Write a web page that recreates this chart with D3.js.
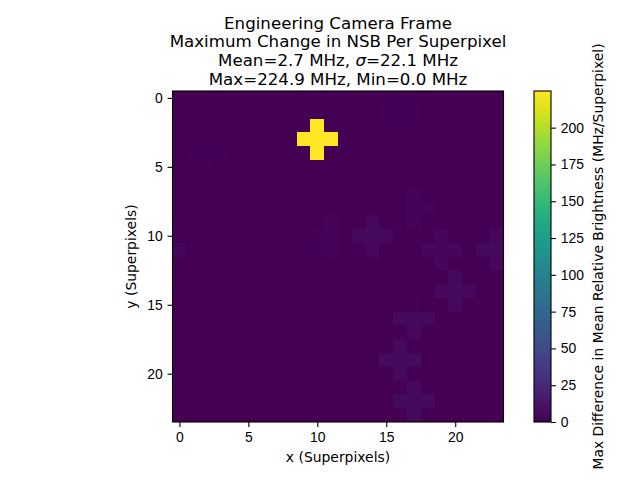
<!DOCTYPE html>
<html>
<head>
<meta charset="utf-8">
<script src="https://cdn.jsdelivr.net/npm/d3@7"></script>
<style>
  body { margin: 0; background: #fff; }
  svg { font-family: "DejaVu Sans", sans-serif; }
</style>
</head>
<body>
<svg id="chart" width="640" height="480"></svg>
<script>
// superpixel grid is 24 x 24, value of background cells
var gridSize = 24;
var baseValue = 0.0;

// non-background cells: [x, y, MHz]
var brightCross = [[10, 2, 224.9], [9, 3, 224.9], [10, 3, 224.9], [11, 3, 224.9], [10, 4, 224.9]];
var faintCells = [
    [16, 0, 1.5], [15, 1, 1.5], [16, 1, 1.5], [17, 1, 1.5], [16, 2, 1.5],
    [2, 3, 0.8], [1, 4, 1.2], [2, 4, 1.2], [3, 4, 1.2], [2, 5, 1.2],
    [17, 7, 2.5], [16, 8, 1], [17, 8, 2.5], [18, 8, 2.5], [17, 9, 2.5],
    [14, 9, 4.5], [13, 10, 4.5], [14, 10, 4.5], [15, 10, 4.5], [14, 11, 4.5],
    [11, 9, 1.8], [10, 10, 1.2], [11, 10, 1.8], [10, 11, 1.2], [11, 11, 1.8],
    [19, 10, 4], [18, 11, 4], [19, 11, 4], [20, 11, 4], [19, 12, 4],
    [23, 10, 4.5], [22, 11, 4.5], [23, 11, 4.5], [23, 12, 4.5],
    [0, 11, 3.5],
    [9, 12, 0.8], [8, 13, 0.8], [9, 13, 0.8], [10, 13, 0.8], [9, 14, 0.8],
    [20, 13, 5], [19, 14, 5], [20, 14, 5], [21, 14, 5], [20, 15, 5],
    [22, 15, 0.8], [21, 16, 0.8], [22, 16, 0.8],
    [17, 15, 1.5], [16, 16, 4.5], [17, 16, 4.5], [18, 16, 4.5], [17, 17, 4.5],
    [16, 18, 5.5], [15, 19, 5.5], [16, 19, 5.5], [17, 19, 5.5], [16, 20, 5.5],
    [17, 21, 6], [16, 22, 6], [17, 22, 6], [18, 22, 6], [17, 23, 6],
    [4, 15, 0.8], [4, 16, 0.8], [4, 17, 0.8], [4, 18, 0.8], [4, 19, 0.8], [4, 20, 0.8],
    [5, 16, 0.8], [5, 17, 0.8], [5, 18, 0.8], [5, 19, 0.8], [5, 20, 0.8], [5, 21, 0.8],
    [3, 16, 0.5], [7, 16, 0.5], [8, 16, 0.5], [7, 17, 0.5], [8, 17, 0.5], [7, 18, 0.5]
];

var xTicks = [0, 5, 10, 15, 20];
var yTicks = [0, 5, 10, 15, 20];
var cbTicks = [0, 25, 50, 75, 100, 125, 150, 175, 200];
var vMin = 0.0, vMax = 224.9;

var titleLines = ["Engineering Camera Frame", "Maximum Change in NSB Per Superpixel"];

var svg = d3.select("#chart");
var x0 = 172.5, x1 = 503.5, y0 = 91, y1 = 422;

var x = d3.scaleLinear().domain([-0.5, gridSize - 0.5]).range([x0, x1]);
var y = d3.scaleLinear().domain([-0.5, gridSize - 0.5]).range([y0, y1]);
var color = d3.scaleSequential(d3.interpolateViridis).domain([vMin, vMax]);

// background cells
svg.append("rect")
    .attr("x", x0).attr("y", y0)
    .attr("width", x1 - x0).attr("height", y1 - y0)
    .style("fill", color(baseValue));

var cells = faintCells.concat(brightCross);
svg.append("g").selectAll("rect")
    .data(cells)
    .enter().append("rect")
    .attr("x", function (d) { return x(d[0] - 0.5); })
    .attr("y", function (d) { return y(d[1] - 0.5); })
    .attr("width", function (d) { return x(d[0] + 0.5) - x(d[0] - 0.5); })
    .attr("height", function (d) { return y(d[1] + 0.5) - y(d[1] - 0.5); })
    .attr("shape-rendering", "crispEdges")
    .style("fill", function (d) { return color(d[2]); });

function styleAxis(g) {
    g.selectAll("path").attr("stroke", "#000").attr("stroke-width", 1.1);
    g.selectAll("line").attr("stroke", "#000").attr("stroke-width", 1.1);
    g.selectAll("text").attr("fill", "#000").style("font-size", "13.9px");
}

svg.append("g")
    .attr("transform", "translate(0," + y1 + ")")
    .call(d3.axisBottom(x).tickValues(xTicks).tickSize(4.9).tickPadding(4.9).tickSizeOuter(0))
    .call(styleAxis)
    .select(".domain").remove();

svg.append("g")
    .attr("transform", "translate(" + x0 + ",0)")
    .call(d3.axisLeft(y).tickValues(yTicks).tickSize(4.9).tickPadding(4.9).tickSizeOuter(0))
    .call(styleAxis)
    .select(".domain").remove();

// frame
svg.append("rect")
    .attr("x", x0).attr("y", y0)
    .attr("width", x1 - x0).attr("height", y1 - y0)
    .style("fill", "none").style("stroke", "#000").style("stroke-width", 1.1);

svg.append("text")
    .attr("x", (x0 + x1) / 2).attr("y", 462)
    .attr("text-anchor", "middle").style("font-size", "13.9px")
    .text("x (Superpixels)");

svg.append("text")
    .attr("transform", "translate(136," + ((y0 + y1) / 2) + ") rotate(-90)")
    .attr("text-anchor", "middle").style("font-size", "13.9px")
    .text("y (Superpixels)");

// title
var title = svg.append("text")
    .attr("text-anchor", "middle")
    .style("font-size", "16.67px");
var tx = (x0 + x1) / 2;
title.append("tspan").attr("x", tx).attr("y", 28.5).text(titleLines[0]);
title.append("tspan").attr("x", tx).attr("y", 47.2).text(titleLines[1]);
var l3 = title.append("tspan").attr("x", tx).attr("y", 65.9);
l3.append("tspan").text("Mean=2.7 MHz, ");
l3.append("tspan").style("font-style", "italic").text("σ");
l3.append("tspan").text("=22.1 MHz");
title.append("tspan").attr("x", tx).attr("y", 84.6).text("Max=224.9 MHz, Min=0.0 MHz");

// colorbar
var cbx0 = 534, cbx1 = 551;
var cb = d3.scaleLinear().domain([vMin, vMax]).range([y1, y0]);
var grad = svg.append("defs").append("linearGradient")
    .attr("id", "viridis")
    .attr("x1", "0").attr("y1", "1").attr("x2", "0").attr("y2", "0");
d3.range(0, 1.0001, 0.05).forEach(function (t) {
    grad.append("stop").attr("offset", t).attr("stop-color", d3.interpolateViridis(t));
});
svg.append("rect")
    .attr("x", cbx0).attr("y", y0)
    .attr("width", cbx1 - cbx0).attr("height", y1 - y0)
    .style("fill", "url(#viridis)")
    .style("stroke", "#000").style("stroke-width", 1.1);

svg.append("g")
    .attr("transform", "translate(" + cbx1 + ",0)")
    .call(d3.axisRight(cb).tickValues(cbTicks).tickSize(4.9).tickPadding(4.9).tickSizeOuter(0))
    .call(styleAxis)
    .select(".domain").remove();

svg.append("text")
    .attr("transform", "translate(603," + ((y0 + y1) / 2) + ") rotate(-90)")
    .attr("text-anchor", "middle").style("font-size", "13.9px")
    .text("Max Difference in Mean Relative Brightness (MHz/Superpixel)");
</script>
</body>
</html>
